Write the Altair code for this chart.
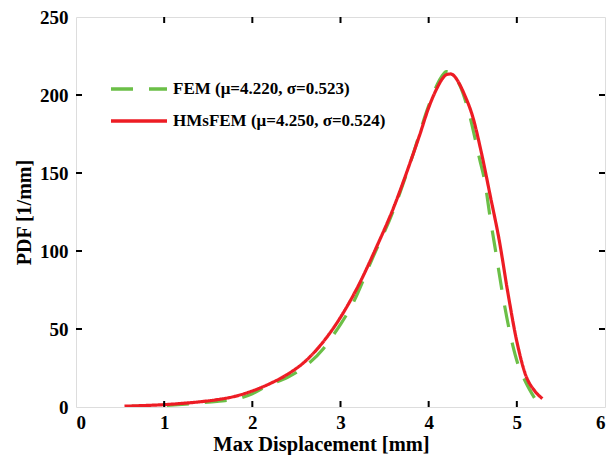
import altair as alt
import pandas as pd

# HMsFEM (red, solid)
hms_x = [0.55, 0.8, 1.0, 1.2, 1.4, 1.6, 1.8, 2.0, 2.2, 2.4, 2.6, 2.8, 3.0, 3.2, 3.4, 3.6,
         3.8, 3.9, 4.0, 4.1, 4.15, 4.2, 4.25, 4.3, 4.35, 4.4, 4.5, 4.6, 4.7, 4.8, 4.9, 5.0, 5.1, 5.2, 5.29]
hms_y = [0.5, 1.0, 1.5, 2.3, 3.3, 4.7, 6.8, 10.3, 15.0, 21.0, 29.3, 41.5, 57.5, 77.5, 101.5, 127.5,
         158.3, 174.7, 191.9, 205.0, 210.0, 213.0, 213.5, 211.5, 207.0, 201.0, 186.0, 162.5, 135.0, 107.0, 72.7, 42.0, 20.5, 10.5, 5.4]

# FEM (green, dashed)
fem_x = [0.6, 1.0, 1.2, 1.4, 1.6, 1.84, 2.0, 2.18, 2.4, 2.59, 2.8, 2.89, 3.0, 3.12, 3.36, 3.6,
         3.8, 4.0, 4.1, 4.15, 4.2, 4.25, 4.3, 4.36, 4.45, 4.58, 4.64, 4.69, 4.77, 4.85, 4.94, 5.01, 5.1, 5.21]
fem_y = [0.3, 1.0, 1.7, 2.6, 3.6, 5.4, 8.5, 13.9, 19.0, 25.7, 37.0, 43.9, 53.0, 64.2, 95.0, 126.0,
         158.0, 193.0, 207.0, 212.0, 215.0, 214.5, 211.5, 205.4, 190.0, 158.4, 143.5, 124.2, 96.3, 68.5, 42.8, 27.9, 16.0, 4.9]

fem_label = "FEM (\u03bc=4.220, \u03c3=0.523)"
hms_label = "HMsFEM (\u03bc=4.250, \u03c3=0.524)"

x_labels = [0, 1, 2, 3, 4, 5, 6]
y_labels = [0, 50, 100, 150, 200, 250]
x_inner_ticks = [1, 2, 3, 4, 5]
y_inner_ticks = [50, 100, 150, 200]

W, H = 529, 390
TL = 6
FONT = "Liberation Serif"

df = pd.concat([
    pd.DataFrame({"x": fem_x, "y": fem_y, "series": fem_label}),
    pd.DataFrame({"x": hms_x, "y": hms_y, "series": hms_label}),
])

xscale = alt.Scale(domain=[0, 6], nice=False, zero=False)
yscale = alt.Scale(domain=[0, 250], nice=False)

xaxis = alt.Axis(values=x_labels, title="Max Displacement [mm]", ticks=False, domain=False,
                 grid=False, labelFont=FONT, labelFontSize=19, labelFontWeight="bold",
                 labelColor="black", titleFont=FONT, titleFontSize=20.5, titleFontWeight="bold",
                 titleColor="black", labelPadding=6, titlePadding=2, titleX=245, format="d")
yaxis = alt.Axis(values=y_labels, title="PDF [1/mm]", ticks=False, domain=False,
                 grid=False, labelFont=FONT, labelFontSize=19, labelFontWeight="bold",
                 labelColor="black", titleFont=FONT, titleFontSize=20, titleFontWeight="bold",
                 titleColor="black", labelPadding=8, titlePadding=5, format="d")

lines = alt.Chart(df).mark_line(strokeWidth=3.2, clip=True, interpolate="monotone").encode(
    x=alt.X("x:Q", scale=xscale, axis=xaxis),
    y=alt.Y("y:Q", scale=yscale, axis=yaxis),
    color=alt.Color("series:N",
                    scale=alt.Scale(domain=[fem_label, hms_label], range=["#6bbf47", "#ed1c24"]),
                    legend=alt.Legend(title=None, orient="none", legendX=47, legendY=56,
                                      symbolType="M-2,0H2", symbolSize=784, symbolStrokeWidth=3.5,
                                      labelFont=FONT, labelFontSize=17, labelFontWeight="bold",
                                      labelColor="black", labelOffset=18, rowPadding=8, padding=0,
                                      labelLimit=0)),
    strokeDash=alt.StrokeDash("series:N",
                              scale=alt.Scale(domain=[fem_label, hms_label], range=[[22, 16], [1, 0]]),
                              legend=None),
    order=alt.Order("x:Q"),
    detail="series:N",
)

xt = pd.DataFrame({"xt": x_inner_ticks})
yt = pd.DataFrame({"yt": y_inner_ticks})

tick_style = dict(color="black", strokeWidth=2)
bottom_ticks = alt.Chart(xt).mark_rule(**tick_style).encode(
    x=alt.X("xt:Q", scale=xscale), y=alt.value(H), y2=alt.value(H - TL))
top_ticks = alt.Chart(xt).mark_rule(**tick_style).encode(
    x=alt.X("xt:Q", scale=xscale), y=alt.value(0), y2=alt.value(TL))
left_ticks = alt.Chart(yt).mark_rule(**tick_style).encode(
    y=alt.Y("yt:Q", scale=yscale), x=alt.value(0), x2=alt.value(TL))
right_ticks = alt.Chart(yt).mark_rule(**tick_style).encode(
    y=alt.Y("yt:Q", scale=yscale), x=alt.value(W), x2=alt.value(W - TL))

chart = alt.layer(lines, bottom_ticks, top_ticks, left_ticks, right_ticks).properties(
    width=W, height=H, autosize="none",
    padding={"left": 68, "top": 9, "right": 1, "bottom": 48},
).configure_view(stroke="black", strokeWidth=2.2).configure(background="white")

chart.save("out.html", embed_options={"renderer": "svg", "actions": False})
